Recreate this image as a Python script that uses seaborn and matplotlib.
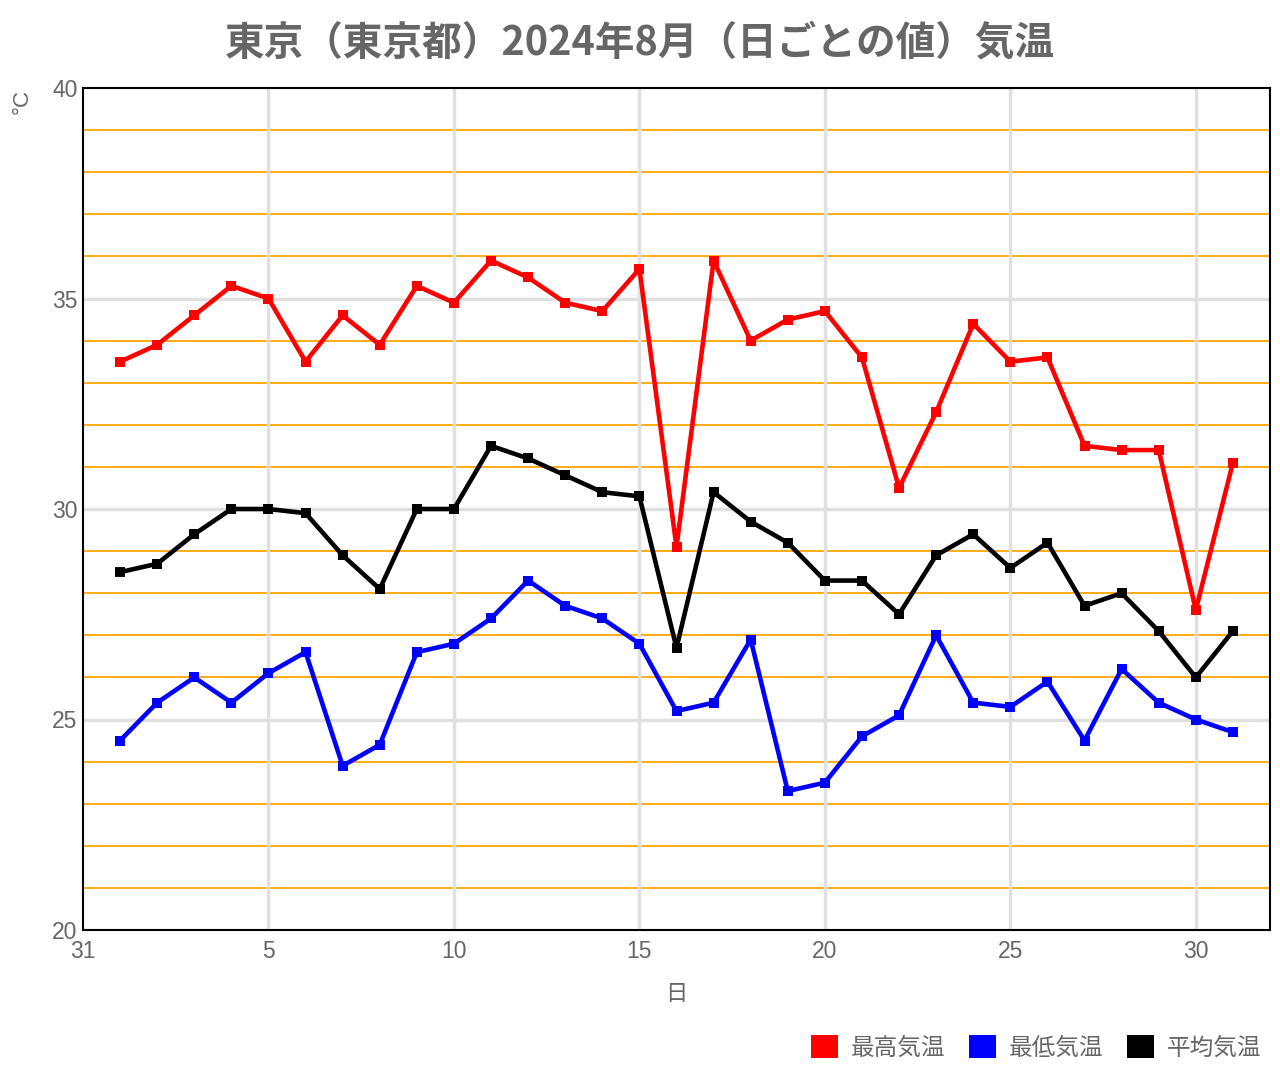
import matplotlib
matplotlib.use("Agg")
import matplotlib.pyplot as plt
import seaborn as sns
import pandas as pd
import numpy as np
from matplotlib.patches import Patch

days = list(range(1, 32))
max_temp = [33.5, 33.9, 34.6, 35.3, 35.0, 33.5, 34.6, 33.9, 35.3, 34.9,
            35.9, 35.5, 34.9, 34.7, 35.7, 29.1, 35.9, 34.0, 34.5, 34.7,
            33.6, 30.5, 32.3, 34.4, 33.5, 33.6, 31.5, 31.4, 31.4, 27.6, 31.1]
min_temp = [24.5, 25.4, 26.0, 25.4, 26.1, 26.6, 23.9, 24.4, 26.6, 26.8,
            27.4, 28.3, 27.7, 27.4, 26.8, 25.2, 25.4, 26.9, 23.3, 23.5,
            24.6, 25.1, 27.0, 25.4, 25.3, 25.9, 24.5, 26.2, 25.4, 25.0, 24.7]
mean_temp = [28.5, 28.7, 29.4, 30.0, 30.0, 29.9, 28.9, 28.1, 30.0, 30.0,
             31.5, 31.2, 30.8, 30.4, 30.3, 26.7, 30.4, 29.7, 29.2, 28.3,
             28.3, 27.5, 28.9, 29.4, 28.6, 29.2, 27.7, 28.0, 27.1, 26.0, 27.1]
series_names = ["最高気温", "最低気温", "平均気温"]
series_colors = ["#ff0000", "#0000ff", "#000000"]
x_ticks = [0, 5, 10, 15, 20, 25, 30]
x_tick_labels = ["31", "5", "10", "15", "20", "25", "30"]
y_ticks = [20, 25, 30, 35, 40]

sns.set_theme(style="white")
plt.rcParams['font.family'] = ['Noto Sans CJK JP', 'DejaVu Sans']
num_font = ['Liberation Sans', 'DejaVu Sans']

df = pd.DataFrame({
    "day": days * 3,
    "temp": max_temp + min_temp + mean_temp,
    "series": [series_names[0]] * 31 + [series_names[1]] * 31 + [series_names[2]] * 31,
})

fig = plt.figure(figsize=(12.8, 10.8), dpi=100)
ax = fig.add_axes([83 / 1280, 150 / 1080, (1270 - 83) / 1280, (930 - 88) / 1080])

# grid lines
for v in range(21, 40):
    if v % 5 != 0:
        ax.axhline(v, color="#ffa500", lw=1.3, zorder=1)
for v in [25, 30, 35]:
    ax.axhline(v, color="#e0e0e0", lw=2.5, zorder=1)
for v in [5, 10, 15, 20, 25, 30]:
    ax.axvline(v, color="#e0e0e0", lw=2.5, zorder=1)

sns.lineplot(data=df, x="day", y="temp", hue="series", hue_order=series_names,
             palette=series_colors, marker="s", markersize=7, markeredgewidth=0,
             linewidth=3.3, legend=False, ax=ax, zorder=3)

ax.set_xlim(0, 32)
ax.set_ylim(20, 40)
ax.set_xticks(x_ticks)
ax.set_xticklabels(x_tick_labels, family=num_font)
ax.set_yticks(y_ticks)
ax.set_yticklabels([str(v) for v in y_ticks], family=num_font)
ax.tick_params(axis="both", length=0, labelsize=16.5, labelcolor="#666666")
ax.tick_params(axis="x", pad=7)
ax.tick_params(axis="y", pad=4)
for s in ax.spines.values():
    s.set_color("#000000")
    s.set_linewidth(1.5)

ax.set_xlabel("日", fontsize=16, color="#666666", labelpad=14)
ax.set_ylabel("")
fig.text(22 / 1280, 1 - 102 / 1080, "°C", rotation=90, fontsize=16, color="#666666",
         ha="center", va="center", family=num_font)

fig.suptitle("東京（東京都）2024年8月（日ごとの値）気温", x=640 / 1280, y=1 - 43 / 1080,
             fontsize=28.5, fontweight="bold", color="#666666", va="center")

handles = [Patch(facecolor=c, edgecolor="none") for c in series_colors]
fig.legend(handles, series_names, loc="center right", bbox_to_anchor=(1283 / 1280, 1 - 1047 / 1080),
           ncol=3, frameon=False, fontsize=17, labelcolor="#666666",
           handlelength=1.15, handleheight=1.15, handletextpad=0.55, columnspacing=1.0)

fig.savefig("out.png", dpi=100)
